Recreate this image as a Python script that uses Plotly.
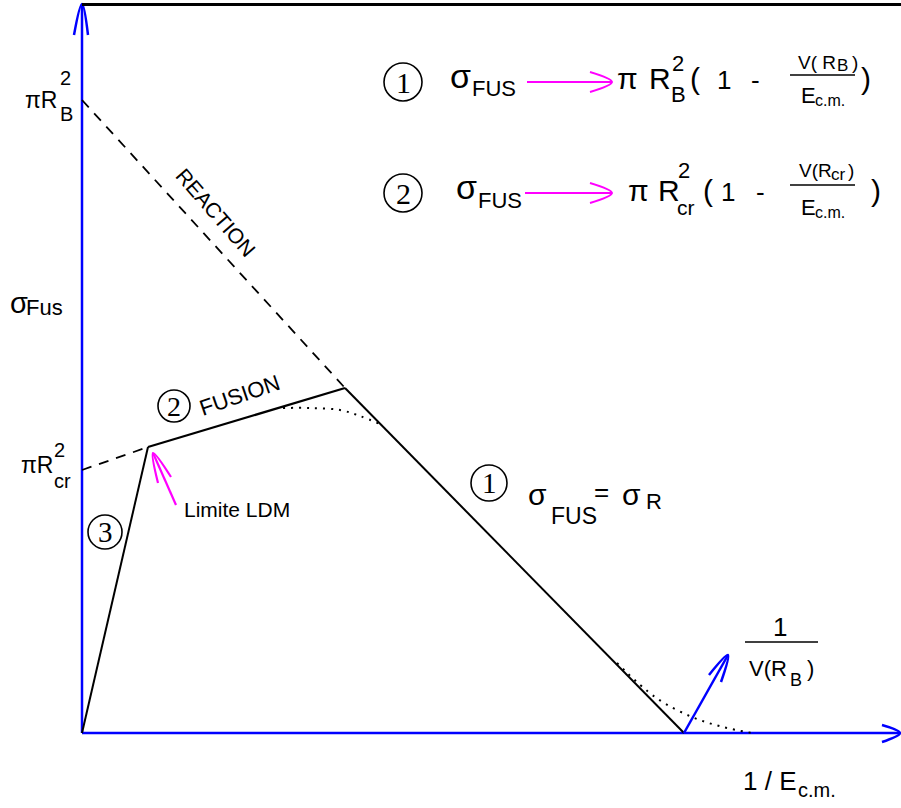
import plotly.graph_objects as go

# Schematic of the fusion cross-section versus 1/E_cm (arbitrary units,
# origin at the crossing of the two axes).

# axes
yaxis_x = [0, 0]
yaxis_y = [0, 729]
xaxis_x = [0, 818]
xaxis_y = [0, 0]
frame_top_x = [0, 819]
frame_top_y = [728.5, 728.5]

# reaction cross-section (geometric limit), dashed
reaction_x = [0, 263]
reaction_y = [633, 345]
# regime 2: fusion limited by the critical radius
fusion_x = [66, 263]
fusion_y = [286, 345]
rcr_ext_x = [0, 66]
rcr_ext_y = [263, 286]
# regime 3: below the LDM limit
ldm_x = [0, 66]
ldm_y = [0, 286]
# regime 1: sigma_fus = sigma_R
sigr_x = [263, 602]
sigr_y = [345, 0]
# smoothed (realistic) behaviour, dotted
smooth_top_x = [201, 228, 258, 278, 298]
smooth_top_y = [325, 325, 323, 317, 309]
smooth_tail_x = [535, 573, 610, 641, 670]
smooth_tail_y = [70, 36, 16, 6, 0]

BLUE = "#0000ff"
MAG = "#ff00ff"
BLACK = "#000000"
SANS = "Liberation Sans, Arial, sans-serif"
SERIF = "Liberation Serif, Times New Roman, serif"

fig = go.Figure()


def seg(xs, ys, color=BLACK, width=2, dash=None):
    fig.add_trace(go.Scatter(
        x=xs, y=ys, mode="lines", hoverinfo="skip", showlegend=False,
        line=dict(color=color, width=width, dash=dash, shape="spline" if len(xs) > 2 else "linear")))


def arrow_head(tip, w1, w2, color, width=2):
    seg([w1[0], tip[0], w2[0]], [w1[1], tip[1], w2[1]], color, width)


# axes with open arrow heads
seg(yaxis_x, yaxis_y, BLUE, 2.5)
arrow_head((0, 729), (-8, 698), (6, 698), BLUE, 2.5)
seg(xaxis_x, xaxis_y, BLUE, 2.5)
arrow_head((818, 0), (800, 8), (800, -9), BLUE, 2.5)
seg(frame_top_x, frame_top_y, BLACK, 3)

# curves
seg(reaction_x, reaction_y, BLACK, 1.8, "10px,8px")
seg(rcr_ext_x, rcr_ext_y, BLACK, 1.8, "10px,8px")
seg(fusion_x, fusion_y, BLACK, 2.2)
seg(ldm_x, ldm_y, BLACK, 2)
seg(sigr_x, sigr_y, BLACK, 2)
seg(smooth_top_x, smooth_top_y, BLACK, 2, "2px,6px")
seg(smooth_tail_x, smooth_tail_y, BLACK, 2, "2px,6px")

# 1/V(R_B) pointer
seg([602, 646], [0, 78], BLUE, 2.5)
arrow_head((646, 78), (627, 58), (639, 51), BLUE, 2.5)

# "Limite LDM" pointer
seg([94, 71], [228, 280], MAG, 2.2)
arrow_head((71, 280), (89, 256), (76, 250), MAG, 2.2)

# arrows of the two formulas
seg([445, 530], [651, 651], MAG, 2)
arrow_head((530, 651), (508, 661), (508, 641), MAG, 2)
seg([443, 530], [540, 540], MAG, 2)
arrow_head((530, 540), (508, 550), (508, 530), MAG, 2)

# fraction bars
seg([708, 773], [658, 658], BLACK, 1.5)
seg([708, 773], [548, 548], BLACK, 1.5)
seg([663, 736], [91, 91], BLACK, 1.5)

anns = []


def txt(s, x, y, size, xanchor="left", font=SANS, angle=0):
    anns.append(dict(text=s, x=x, y=y, xref="x", yref="y", showarrow=False,
                     xanchor=xanchor, yanchor="middle", textangle=angle,
                     borderpad=0,
                     font=dict(family=font, size=size, color=BLACK)))


shapes = []


def ring(cx, cy, r, digit, size):
    shapes.append(dict(type="circle", xref="x", yref="y", x0=cx - r, x1=cx + r,
                       y0=cy - r, y1=cy + r, line=dict(color=BLACK, width=1.6)))
    txt(digit, cx, cy, size, xanchor="center", font=SERIF)


# formula 1
ring(321, 651, 19, "1", 30)
txt("σ", 367, 657, 34)
txt("FUS", 389, 645, 22)
txt("π", 534, 655, 30)
txt("R", 566, 655, 30)
txt("2", 589, 670, 22)
txt("B", 588, 639, 22)
txt("(", 607, 655, 30)
txt("1", 634, 653, 26)
txt("-", 668, 653, 26)
txt("V( R", 715, 671, 19)
txt("B", 754, 668, 17)
txt(")", 769, 671, 19)
txt("E", 718, 638, 22)
txt("c.m.", 732, 633, 16)
txt(")", 778, 655, 30)

# formula 2
ring(321, 540, 19, "2", 30)
txt("σ", 373, 546, 34)
txt("FUS", 395, 533, 22)
txt("π", 545, 543, 30)
txt("R", 575, 543, 30)
txt("2", 595, 563, 22)
txt("cr", 594, 526, 21)
txt("(", 620, 543, 30)
txt("1", 638, 541, 26)
txt("-", 673, 541, 26)
txt("V(R", 716, 563, 19)
txt("cr", 748, 559, 17)
txt(")", 765, 563, 19)
txt("E", 718, 526, 22)
txt("c.m.", 732, 521, 16)
txt(")", 788, 543, 30)

# axis-side labels
txt("πR", -58, 633, 23)
txt("2", -23, 655, 20)
txt("B", -23, 619, 20)
txt("πR", -62, 268, 23)
txt("2", -29, 283, 20)
txt("cr", -29, 252, 20)
txt("σ", -73, 430, 29)
txt("Fus", -57, 426, 22)

# curve labels
txt("REACTION", 134, 521, 21, xanchor="center", angle=49)
ring(92, 327, 16, "2", 28)
txt("FUSION", 157, 338, 22, xanchor="center", angle=-19)
ring(23, 201, 17, "3", 29)
txt("Limite LDM", 101, 224, 21)
ring(407, 250, 18, "1", 29)
txt("σ", 445, 239, 30)
txt("FUS", 468, 217, 23)
txt("=", 511, 241, 26)
txt("σ", 539, 239, 30)
txt("R", 563, 232, 22)

# 1/V(R_B) and x-axis title
txt("1", 698, 106, 26, xanchor="center")
txt("V(R", 666, 65, 22)
txt("B", 707, 53, 18)
txt(")", 724, 65, 22)
txt("1 / E", 660, -48, 26)
txt("c.m.", 715, -57, 20)

fig.update_layout(
    width=901, height=808,
    margin=dict(l=0, r=0, t=0, b=0),
    paper_bgcolor="white", plot_bgcolor="white",
    xaxis=dict(range=[-82, 819], visible=False, fixedrange=True),
    yaxis=dict(range=[-75, 733], visible=False, fixedrange=True),
    annotations=anns, shapes=shapes, showlegend=False,
)

fig.write_html("out.html")
